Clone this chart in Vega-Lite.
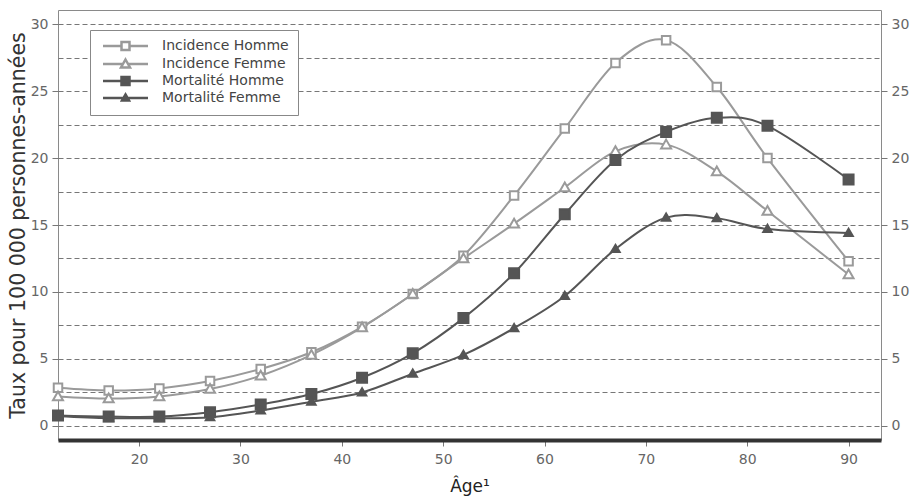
{
  "$schema": "https://vega.github.io/schema/vega-lite/v6.json",
  "width": 823,
  "height": 430,
  "autosize": "none",
  "padding": {"left": 58, "top": 10, "right": 36, "bottom": 60},
  "background": "white",
  "config": {
    "view": {"stroke": "#8a8a8a", "strokeWidth": 1},
    "font": "DejaVu Sans",
    "axis": {"labelFont": "DejaVu Sans", "titleFont": "DejaVu Sans", "labelColor": "#666", "labelFontSize": 14, "tickColor": "#777", "domain": false}
  },
  "data": {
    "values": [
      {"age": 12, "serie": "Incidence Homme", "taux": 2.85},
      {"age": 17, "serie": "Incidence Homme", "taux": 2.65},
      {"age": 22, "serie": "Incidence Homme", "taux": 2.8},
      {"age": 27, "serie": "Incidence Homme", "taux": 3.35},
      {"age": 32, "serie": "Incidence Homme", "taux": 4.25},
      {"age": 37, "serie": "Incidence Homme", "taux": 5.5},
      {"age": 42, "serie": "Incidence Homme", "taux": 7.4},
      {"age": 47, "serie": "Incidence Homme", "taux": 9.85},
      {"age": 52, "serie": "Incidence Homme", "taux": 12.7},
      {"age": 57, "serie": "Incidence Homme", "taux": 17.2},
      {"age": 62, "serie": "Incidence Homme", "taux": 22.2},
      {"age": 67, "serie": "Incidence Homme", "taux": 27.1},
      {"age": 72, "serie": "Incidence Homme", "taux": 28.8},
      {"age": 77, "serie": "Incidence Homme", "taux": 25.3},
      {"age": 82, "serie": "Incidence Homme", "taux": 20.0},
      {"age": 90, "serie": "Incidence Homme", "taux": 12.3},
      {"age": 12, "serie": "Incidence Femme", "taux": 2.2},
      {"age": 17, "serie": "Incidence Femme", "taux": 2.05},
      {"age": 22, "serie": "Incidence Femme", "taux": 2.2},
      {"age": 27, "serie": "Incidence Femme", "taux": 2.75},
      {"age": 32, "serie": "Incidence Femme", "taux": 3.75},
      {"age": 37, "serie": "Incidence Femme", "taux": 5.3},
      {"age": 42, "serie": "Incidence Femme", "taux": 7.35},
      {"age": 47, "serie": "Incidence Femme", "taux": 9.85},
      {"age": 52, "serie": "Incidence Femme", "taux": 12.5},
      {"age": 57, "serie": "Incidence Femme", "taux": 15.1},
      {"age": 62, "serie": "Incidence Femme", "taux": 17.8},
      {"age": 67, "serie": "Incidence Femme", "taux": 20.5},
      {"age": 72, "serie": "Incidence Femme", "taux": 21.0},
      {"age": 77, "serie": "Incidence Femme", "taux": 19.0},
      {"age": 82, "serie": "Incidence Femme", "taux": 16.05},
      {"age": 90, "serie": "Incidence Femme", "taux": 11.3},
      {"age": 12, "serie": "Mortalité Homme", "taux": 0.78},
      {"age": 17, "serie": "Mortalité Homme", "taux": 0.7},
      {"age": 22, "serie": "Mortalité Homme", "taux": 0.7},
      {"age": 27, "serie": "Mortalité Homme", "taux": 1.02},
      {"age": 32, "serie": "Mortalité Homme", "taux": 1.6},
      {"age": 37, "serie": "Mortalité Homme", "taux": 2.38},
      {"age": 42, "serie": "Mortalité Homme", "taux": 3.6},
      {"age": 47, "serie": "Mortalité Homme", "taux": 5.42},
      {"age": 52, "serie": "Mortalité Homme", "taux": 8.05},
      {"age": 57, "serie": "Mortalité Homme", "taux": 11.4},
      {"age": 62, "serie": "Mortalité Homme", "taux": 15.8},
      {"age": 67, "serie": "Mortalité Homme", "taux": 19.85},
      {"age": 72, "serie": "Mortalité Homme", "taux": 21.95},
      {"age": 77, "serie": "Mortalité Homme", "taux": 23.0},
      {"age": 82, "serie": "Mortalité Homme", "taux": 22.4},
      {"age": 90, "serie": "Mortalité Homme", "taux": 18.4},
      {"age": 12, "serie": "Mortalité Femme", "taux": 0.72},
      {"age": 17, "serie": "Mortalité Femme", "taux": 0.58},
      {"age": 22, "serie": "Mortalité Femme", "taux": 0.58},
      {"age": 27, "serie": "Mortalité Femme", "taux": 0.65},
      {"age": 32, "serie": "Mortalité Femme", "taux": 1.15},
      {"age": 37, "serie": "Mortalité Femme", "taux": 1.8},
      {"age": 42, "serie": "Mortalité Femme", "taux": 2.5},
      {"age": 47, "serie": "Mortalité Femme", "taux": 3.9},
      {"age": 52, "serie": "Mortalité Femme", "taux": 5.3},
      {"age": 57, "serie": "Mortalité Femme", "taux": 7.3},
      {"age": 62, "serie": "Mortalité Femme", "taux": 9.7},
      {"age": 67, "serie": "Mortalité Femme", "taux": 13.2},
      {"age": 72, "serie": "Mortalité Femme", "taux": 15.55},
      {"age": 77, "serie": "Mortalité Femme", "taux": 15.5},
      {"age": 82, "serie": "Mortalité Femme", "taux": 14.7},
      {"age": 90, "serie": "Mortalité Femme", "taux": 14.4}
    ]
  },
  "encoding": {
    "x": {
      "field": "age",
      "type": "quantitative",
      "scale": {"domain": [12, 93.2], "nice": false, "zero": false},
      "axis": {
        "title": "Âge¹",
        "values": [20, 30, 40, 50, 60, 70, 80, 90],
        "grid": false,
        "domain": true,
        "domainColor": "#333",
        "domainWidth": 4,
        "tickSize": 6,
        "labelPadding": 6,
        "titleFontSize": 17,
        "titleFontWeight": "normal",
        "titleColor": "#222",
        "titlePadding": 12
      }
    },
    "stroke": {
      "field": "serie",
      "type": "nominal",
      "scale": {"domain": ["Incidence Homme", "Incidence Femme", "Mortalité Homme", "Mortalité Femme"], "range": ["#9a9a9a", "#9a9a9a", "#555555", "#555555"]},
      "legend": {
        "orient": "none",
        "legendX": 32,
        "legendY": 20,
        "title": null,
        "padding": 9,
        "strokeColor": "#888",
        "fillColor": "white",
        "symbolSize": 100,
        "symbolOffset": 2,
        "labelOffset": 47,
        "rowPadding": -1,
        "labelFontSize": 14,
        "labelFont": "DejaVu Sans",
        "labelColor": "#444",
        "labelLimit": 300,
        "symbolStrokeWidth": 2.5,
        "encode": {
          "symbols": {
            "update": {
              "shape": {"signal": "datum.value === 'Incidence Homme' ? 'M-1,0H2.7M4.3,0H8M2.7,-0.8H4.3V0.8H2.7Z' : datum.value === 'Incidence Femme' ? 'M-1,0H3M4,0H8M3.5,-0.9L4.4,0.7L2.6,0.7Z' : datum.value === 'Mortalité Homme' ? 'M-1,0H8M2.7,-0.8H4.3V0.8H2.7Z' : 'M-1,0H8M3.5,-0.7L4.2,0.5L2.8,0.5Z'"},
              "strokeWidth": {"value": 2.5}
            }
          }
        }
      }
    }
  },
  "layer": [
    {
      "mark": {"type": "line", "interpolate": "cardinal", "strokeWidth": 2},
      "encoding": {
        "y": {
          "field": "taux",
          "type": "quantitative",
          "scale": {"domain": [-1.05, 31.05], "nice": false, "zero": false},
          "axis": {
            "orient": "left",
            "title": "Taux pour 100 000 personnes-années",
            "values": [0, 2.5, 5, 7.5, 10, 12.5, 15, 17.5, 20, 22.5, 25, 27.5, 30],
            "grid": true,
            "gridDash": [5, 3],
            "gridColor": "#777",
            "gridWidth": 1,
            "labelExpr": "datum.value % 5 === 0 ? datum.label : ''",
            "tickOpacity": {"condition": {"test": "datum.value % 5 === 0", "value": 1}, "value": 0},
            "tickSize": 6,
            "labelPadding": 4,
            "titleFontSize": 20.5,
            "titleFontWeight": "normal",
            "titleColor": "#333",
            "titlePadding": 2
          }
        }
      }
    },
    {
      "mark": {"type": "point", "filled": true, "strokeWidth": 2, "opacity": 1, "size": 100},
      "encoding": {
        "y": {
          "field": "taux",
          "type": "quantitative",
          "axis": {
            "orient": "right",
            "title": null,
            "values": [0, 5, 10, 15, 20, 25, 30],
            "grid": false,
            "tickSize": 6,
            "labelPadding": 4
          }
        },
        "fill": {
          "field": "serie",
          "type": "nominal",
          "scale": {"domain": ["Incidence Homme", "Incidence Femme", "Mortalité Homme", "Mortalité Femme"], "range": ["#ffffff", "#ffffff", "#555555", "#555555"]}
        },
        "shape": {
          "field": "serie",
          "type": "nominal",
          "scale": {"domain": ["Mortalité Femme", "Mortalité Homme", "Incidence Femme", "Incidence Homme"], "range": ["M0,-0.85L0.85,0.6L-0.85,0.6Z", "M-1,-1H1V1H-1Z", "M0,-1L1,0.75L-1,0.75Z", "M-0.85,-0.85H0.85V0.85H-0.85Z"]},
          "legend": null
        }
      }
    }
  ],
  "resolve": {"axis": {"y": "independent"}}
}
